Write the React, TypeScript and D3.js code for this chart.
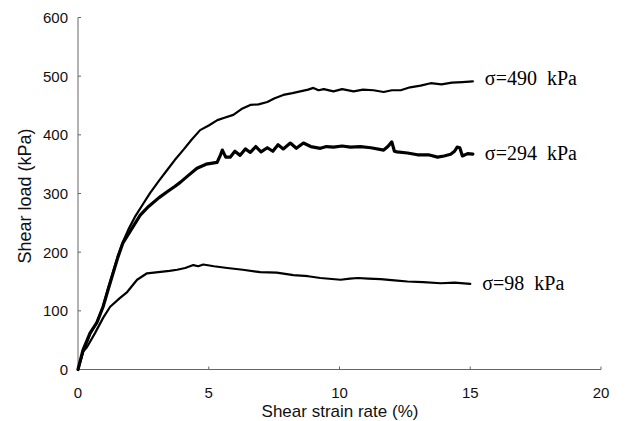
import React from "react";
import * as d3 from "d3";

const W = 626;
const H = 421;

const xTicks = [0, 5, 10, 15, 20];
const yTicks = [0, 100, 200, 300, 400, 500, 600];

// σ = 490 kPa
const s490x = [0, 0.2, 0.46, 0.72, 0.96, 1.15, 1.34, 1.53, 1.72, 1.92, 2.2, 2.5, 2.76, 3.1, 3.41, 3.7, 4.02, 4.35, 4.67, 5.0, 5.33, 5.6, 5.94, 6.25, 6.59, 6.9, 7.24, 7.5, 7.85, 8.2, 8.5, 8.8, 9.0, 9.2, 9.4, 9.77, 10.1, 10.54, 10.9, 11.3, 11.69, 12.0, 12.34, 12.7, 13.1, 13.49, 13.9, 14.3, 14.7, 15.1];
const s490y = [0, 30, 60, 80, 108, 138, 166, 194, 218, 238, 262, 283, 301, 322, 340, 357, 374, 392, 408, 416, 425, 429, 434, 444, 451, 452, 456, 462, 468, 471, 474, 477, 480, 476, 478, 474, 478, 474, 477, 476, 473, 476, 476, 481, 484, 488, 486, 489, 490, 491];

// σ = 294 kPa
const s294x = [0, 0.19, 0.46, 0.72, 0.96, 1.15, 1.34, 1.53, 1.72, 2.07, 2.38, 2.7, 3.1, 3.41, 3.7, 3.91, 4.2, 4.55, 4.9, 5.32, 5.45, 5.52, 5.65, 5.82, 6.0, 6.2, 6.4, 6.59, 6.8, 7.0, 7.24, 7.45, 7.65, 7.85, 8.12, 8.35, 8.62, 8.9, 9.27, 9.5, 9.77, 10.1, 10.42, 10.8, 11.2, 11.69, 11.85, 12.0, 12.1, 12.2, 12.6, 12.98, 13.4, 13.75, 14.0, 14.25, 14.4, 14.5, 14.6, 14.7, 14.9, 15.1];
const s294y = [0, 33, 62, 80, 107, 136, 164, 192, 216, 241, 263, 278, 293, 303, 312, 319, 330, 343, 350, 353, 366, 374, 362, 362, 372, 365, 376, 370, 380, 371, 378, 372, 383, 376, 386, 377, 386, 380, 377, 380, 379, 381, 379, 380, 378, 374, 380, 388, 372, 371, 369, 366, 366, 362, 364, 367, 372, 379, 378, 364, 368, 367];

// σ = 98 kPa
const s98x = [0, 0.19, 0.34, 0.65, 0.96, 1.23, 1.61, 1.88, 2.26, 2.64, 3.07, 3.5, 3.79, 4.1, 4.41, 4.6, 4.79, 5.2, 5.71, 6.3, 6.97, 7.6, 8.24, 8.8, 9.27, 10.04, 10.4, 10.7, 11.1, 11.57, 12.1, 12.6, 13.2, 13.87, 14.4, 15.0];
const s98y = [0, 30, 38, 62, 88, 107, 122, 132, 153, 164, 166, 168, 170, 173, 178, 176, 179, 176, 173, 170, 166, 165, 161, 159, 156, 153, 155, 156, 155, 154, 152, 150, 149, 147, 148, 146];

const seriesLabels = ["σ=490  kPa", "σ=294  kPa", "σ=98  kPa"];

export default function App() {
  const x = d3.scaleLinear().domain([0, 20]).range([78, 601]);
  const y = d3.scaleLinear().domain([0, 600]).range([369.5, 17.5]);

  const mk = (xs: number[], ys: number[]) =>
    d3
      .line<number>()
      .x((_, i) => x(xs[i]))
      .y((_, i) => y(ys[i]))
      .curve(d3.curveLinear)(xs.map((v) => v)) as string;

  const series = [
    { d: mk(s490x, s490y), w: 2.2, xs: s490x, ys: s490y, label: seriesLabels[0], dy: -3 },
    { d: mk(s294x, s294y), w: 3.2, xs: s294x, ys: s294y, label: seriesLabels[1], dy: -1 },
    { d: mk(s98x, s98y), w: 2.2, xs: s98x, ys: s98y, label: seriesLabels[2], dy: -1 },
  ];

  const sans = "'Liberation Sans', Arial, sans-serif";
  const serif = "'Liberation Serif', 'Times New Roman', serif";

  return (
    <div style={{ position: "absolute", left: 0, top: 0 }}>
      <svg width={W} height={H} style={{ display: "block", background: "#fff" }}>
        <line x1={x(0)} x2={x(0)} y1={y(0)} y2={y(600)} stroke="#666" strokeWidth={1} />
        <line x1={x(0)} x2={x(20)} y1={y(0)} y2={y(0)} stroke="#666" strokeWidth={1} />
        {yTicks.map((t) => (
          <g key={"y" + t}>
            <line x1={x(0)} x2={x(0) + 3} y1={y(t)} y2={y(t)} stroke="#666" strokeWidth={1} />
            <text
              x={68}
              y={y(t)}
              textAnchor="end"
              dominantBaseline="central"
              fontFamily={sans}
              fontSize={15}
              fill="#111"
            >
              {t}
            </text>
          </g>
        ))}
        {xTicks.map((t) => (
          <g key={"x" + t}>
            <line x1={x(t)} x2={x(t)} y1={y(0)} y2={y(0) - 3} stroke="#666" strokeWidth={1} />
            <text
              x={x(t)}
              y={392.5}
              textAnchor="middle"
              dominantBaseline="central"
              fontFamily={sans}
              fontSize={15}
              fill="#111"
            >
              {t}
            </text>
          </g>
        ))}
        <text
          x={340}
          y={411.5}
          textAnchor="middle"
          dominantBaseline="central"
          fontFamily={sans}
          fontSize={17}
          fill="#111"
        >
          Shear strain rate (%)
        </text>
        <text
          transform={`translate(25,196) rotate(-90)`}
          textAnchor="middle"
          dominantBaseline="central"
          fontFamily={sans}
          fontSize={18}
          fill="#111"
        >
          Shear load (kPa)
        </text>
        {series.map((s, i) => (
          <g key={i}>
            <path d={s.d} fill="none" stroke="#000" strokeWidth={s.w} strokeLinejoin="round" strokeLinecap="round" />
            <text
              x={x(s.xs[s.xs.length - 1]) + 12}
              y={y(s.ys[s.ys.length - 1]) + s.dy}
              dominantBaseline="central"
              fontFamily={serif}
              fontSize={20}
              fill="#000"
              style={{ whiteSpace: "pre" }}
            >
              {s.label}
            </text>
          </g>
        ))}
      </svg>
    </div>
  );
}
